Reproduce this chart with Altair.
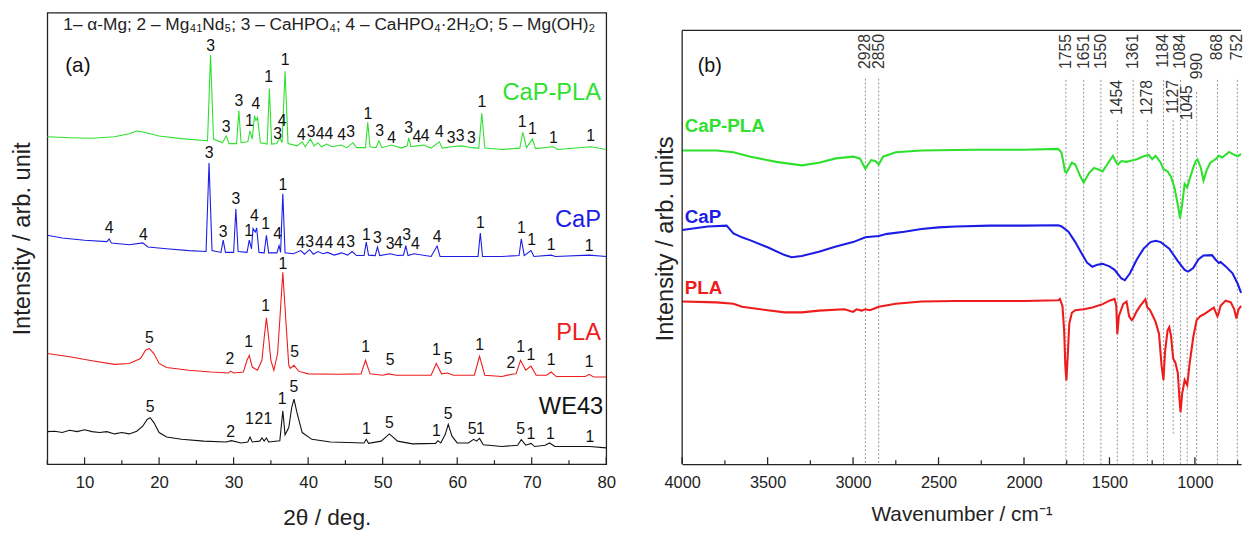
import altair as alt
import pandas as pd

FONT = "Liberation Sans"
W, H = 567, 458

# ---------------- Panel (a): XRD ----------------
a_ticks_major = [10, 20, 30, 40, 50, 60, 70, 80]
a_ticks_minor = [5, 15, 25, 35, 45, 55, 65, 75]
a_series = ["CaP-PLA", "CaP", "PLA", "WE43"]
a_colors = ["#2fe02f", "#1c1ce6", "#ee1c1c", "#111111"]

xrd_cpl = [(5,72.5),(8,72.3),(11,72.2),(14,72.5),(16,73.2),(17,73.8),(18,73.5),(20,72.7),(23,72.1),(26,71.7),
           (26.5,71.6),(26.9,90.6),(27.3,72.0),(28.5,71.2),(29.0,72.7),(29.4,71.0),(30.4,71.0),(30.7,78.3),(31.0,71.2),(31.9,71.4),
           (32.2,73.8),(32.5,72.0),(32.8,77.2),(33.0,76.1),(33.2,76.8),(33.6,71.2),(34.5,70.9),(34.8,83.2),(35.1,70.9),(35.8,71.0),
           (36.2,72.3),(36.5,71.2),(36.9,87.0),(37.3,71.0),(38.5,70.5),(39.2,71.4),(39.6,70.3),(40.3,72.0),(40.8,70.5),(41.3,71.2),
           (41.8,70.3),(42.5,70.9),(43.2,70.3),(44.4,70.7),(45.2,70.1),(46.0,71.2),(46.5,70.1),(47.7,70.1),(48.0,75.7),(48.3,70.3),
           (49.1,70.1),(49.5,71.6),(49.9,70.1),(51.2,70.7),(52.5,70.0),(53.3,70.5),(53.5,72.3),(53.8,70.3),(54.6,70.5),(55.5,70.7),
           (56.5,70.0),(57.6,71.4),(58.0,70.0),(59.2,70.3),(60.6,70.5),(61.9,70.1),(62.9,70.0),(63.3,77.7),(63.7,70.0),(66,69.7),
           (68.4,70.0),(68.8,73.5),(69.3,70.1),(70.1,72.0),(70.5,69.9),(72.9,70.3),(73.5,69.7),(77.9,70.3),(80,69.7)]

xrd_cap = [(5,50.7),(7,50.1),(10,49.6),(13,49.3),(13.3,49.9),(13.6,49.0),(16,48.6),(17.8,49.0),(18.5,48.1),(21,47.7),
           (24,47.3),(26.3,47.1),(26.7,66.7),(27.1,47.3),(28.3,46.9),(28.6,49.6),(28.9,46.9),(30.0,46.9),(30.3,56.5),(30.6,47.1),
           (31.8,46.9),(32.1,49.6),(32.4,47.7),(32.6,52.2),(32.9,51.4),(33.1,52.3),(33.4,46.9),(34.1,46.8),(34.4,50.7),(34.7,46.8),
           (35.8,46.8),(36.1,48.4),(36.3,46.9),(36.6,59.9),(36.9,46.8),(38.0,46.6),(39.0,47.3),(39.5,46.5),(40.2,47.5),(40.7,46.5),
           (41.3,47.1),(42.0,46.6),(42.6,46.9),(43.5,46.3),(44.5,46.8),(45.3,46.3),(45.9,47.1),(46.5,46.2),(47.5,46.2),(47.8,49.2),
           (48.1,46.3),(49.0,46.2),(49.3,48.1),(49.6,46.2),(51.0,46.6),(52.0,46.2),(52.8,46.3),(53.1,48.4),(53.4,46.2),(54.2,46.6),
           (56.5,46.0),(57.3,48.3),(57.7,46.0),(60,46.0),(62.8,46.0),(63.1,51.2),(63.4,46.0),(66,46.0),(68.3,46.2),(68.6,49.9),
           (69.0,46.2),(69.9,47.3),(70.3,46.0),(72.6,46.3),(73.2,46.0),(77.7,46.3),(80,46.0)]

xrd_pla = [(5,24.5),(8,23.8),(11,22.9),(14,22.1),(16,22.3),(17.5,23.4),(18.2,25.3),(18.7,25.6),(19.3,24.5),(20.0,22.3),
           (21,21.4),(24,20.8),(27,20.4),(29.3,20.2),(29.6,20.6),(30.0,20.2),(31.3,20.4),(31.8,23.0),(32.1,24.1),(32.5,21.5),
           (33.2,20.8),(33.8,23.0),(34.1,28.0),(34.4,32.4),(34.7,28.0),(35.0,23.0),(35.4,20.8),(35.9,24.5),(36.2,32.0),(36.6,42.5),
           (37.0,32.0),(37.4,21.9),(37.6,21.2),(38.1,21.9),(38.7,20.6),(40,20.0),(44,19.9),(47.1,20.0),(47.7,23.0),(48.3,20.0),
           (50.0,19.7),(50.8,20.0),(51.8,19.7),(56.5,19.7),(57.2,22.3),(57.9,20.0),(58.7,20.2),(59.5,19.7),(62.3,19.7),(63.0,23.9),
           (63.7,19.7),(66,19.4),(67.3,19.9),(67.9,20.0),(68.5,23.0),(69.2,20.8),(69.9,21.7),(70.6,19.7),(72.0,19.7),(72.6,20.4),
           (73.3,19.4),(77.2,19.4),(77.7,19.9),(78.3,19.3),(80,19.3)]

xrd_we43 = [(5,7.2),(6,7.3),(7,7.0),(8,7.5),(9,7.2),(10,7.6),(11,7.2),(12,7.0),(13,7.2),(14,6.7),
            (15,7.0),(16,6.7),(17,7.3),(17.8,8.4),(18.4,9.9),(18.8,10.3),(19.3,9.2),(20.0,7.0),(21,6.0),(23,5.5),
            (26,5.1),(29,4.9),(29.7,5.2),(31,4.7),(31.9,4.9),(32.2,6.0),(32.5,4.9),(33.5,5.1),(33.8,5.8),(34.1,5.1),
            (34.4,5.8),(34.7,4.9),(36.2,5.2),(36.6,11.8),(36.9,6.5),(37.4,8.1),(37.8,12.6),(38.1,14.4),(38.5,11.4),(39.2,7.0),
            (40.5,5.5),(43,4.9),(47.5,4.7),(47.8,5.5),(48.1,4.6),(49.8,5.1),(50.9,6.7),(52,5.1),(54,4.5),(57.1,4.6),
            (57.4,5.2),(57.8,4.7),(58.4,6.6),(58.8,8.8),(59.3,6.2),(60,4.7),(61.5,4.7),(62.2,5.5),(62.6,5.1),(63.0,5.7),
            (63.5,4.3),(66,3.9),(68.1,4.2),(68.6,5.4),(69.2,4.2),(69.9,4.6),(70.4,3.9),(71.8,4.2),(72.4,4.7),(73.1,3.9),
            (77.8,3.9),(80,3.6)]

lab_cpl = [(26.9,92.5,"3"),(29.0,74.6,"3"),(30.7,80.4,"3"),(32.1,75.9,"1"),(33.0,79.7,"4"),(34.7,85.7,"1"),(35.9,73.1,"3"),
           (36.5,76.1,"4"),(36.9,89.6,"1"),(39.1,72.9,"4"),(40.4,73.5,"3"),(41.6,73.1,"4"),(42.8,73.1,"4"),(44.5,72.9,"4"),
           (45.7,73.5,"3"),(48.0,77.6,"1"),(49.6,73.8,"3"),(51.2,72.3,"4"),(53.5,74.4,"3"),(54.6,72.5,"4"),(55.7,72.7,"4"),
           (57.6,73.5,"4"),(59.2,72.3,"3"),(60.4,72.7,"3"),(61.9,72.2,"3"),(63.3,80.2,"1"),(68.7,75.7,"1"),(70.1,74.2,"1"),
           (72.9,72.3,"1"),(77.9,72.6,"1")]
lab_cap = [(13.3,52.3,"4"),(17.9,50.8,"4"),(26.7,68.8,"3"),(28.6,51.4,"3"),(30.3,58.7,"3"),(32.0,51.6,"1"),(32.8,55.0,"4"),
           (34.3,53.1,"1"),(35.9,51.0,"4"),(36.6,61.9,"1"),(39.0,49.0,"4"),(40.2,49.3,"3"),(41.5,49.0,"4"),(42.8,49.0,"4"),
           (44.4,49.0,"4"),(45.7,49.3,"3"),(47.8,50.8,"1"),(49.3,50.1,"3"),(51.0,48.8,"3"),(52.1,49.0,"4"),(53.2,50.8,"3"),
           (54.4,48.8,"4"),(57.3,50.3,"4"),(63.1,53.3,"1"),(68.6,52.2,"1"),(70.0,49.6,"1"),(72.6,48.6,"1"),(77.7,48.4,"1")]
lab_pla = [(18.7,27.9,"5"),(29.5,23.2,"2"),(32.0,27.1,"1"),(34.3,35.0,"1"),(36.6,44.3,"1"),(38.2,24.9,"5"),(47.7,26.0,"1"),
           (51.0,23.0,"5"),(57.2,25.3,"1"),(58.8,23.2,"5"),(63.0,26.4,"1"),(67.2,22.4,"2"),(68.5,25.9,"1"),(69.9,24.1,"1"),
           (72.6,23.0,"1"),(77.7,22.6,"1")]
lab_we43 = [(18.8,12.6,"5"),(29.6,7.2,"2"),(32.1,9.9,"1"),(33.4,9.9,"2"),(34.6,9.9,"1"),(36.5,14.4,"1"),(38.1,17.0,"5"),
            (47.8,7.7,"1"),(50.9,9.2,"5"),(57.2,7.3,"1"),(58.8,11.1,"5"),(62.0,7.7,"5"),(63.1,7.7,"1"),(68.5,7.7,"5"),
            (69.9,6.7,"1"),(72.5,6.7,"1"),(77.8,6.0,"1")]

a_name_x = [79.3, 79.3, 79.3, 79.6]
a_name_y = [82.1, 54.0, 29.0, 12.6]

a_legend = "1\u2013 \u03b1-Mg; 2 \u2013 Mg\u2084\u2081Nd\u2085; 3 \u2013 CaHPO\u2084; 4 \u2013 CaHPO\u2084\u00b72H\u2082O; 5 \u2013 Mg(OH)\u2082"

# ---------------- Panel (b): FTIR ----------------
b_ticks_major = [4000, 3500, 3000, 2500, 2000, 1500, 1000]
b_ticks_minor = [3750, 3250, 2750, 2250, 1750, 1250, 750]
b_series = ["CaP-PLA", "CaP", "PLA"]
b_colors = ["#35e035", "#1a1ae0", "#ec1e1e"]

ftir_cpl = [(4000,72.3),(3800,72.3),(3700,71.9),(3600,70.9),(3450,69.7),(3300,68.9),(3200,69.5),(3100,70.5),(3000,70.9),(2960,70.5),
            (2928,68.1),(2895,70.1),(2870,69.9),(2850,69.1),(2825,70.9),(2750,71.9),(2600,72.3),(2300,72.5),(2000,72.5),(1800,72.7),
            (1780,71.8),(1760,67.5),(1752,67.2),(1720,69.5),(1700,69.1),(1670,66.3),(1651,64.9),(1620,67.1),(1590,68.3),(1560,67.9),
            (1540,67.5),(1500,69.9),(1480,71.1),(1460,69.5),(1450,69.1),(1430,69.9),(1400,69.7),(1380,69.9),(1340,70.3),(1300,71.0),
            (1270,71.3),(1250,70.3),(1230,71.1),(1200,69.5),(1184,68.0),(1160,67.5),(1140,66.3),(1120,63.8),(1100,59.8),(1087,56.7),
            (1075,59.8),(1060,64.6),(1045,63.8),(1030,65.9),(1010,68.3),(995,69.9),(985,70.3),(965,68.3),(950,65.4),(930,67.9),
            (910,69.5),(880,70.3),(860,71.1),(840,70.7),(800,72.0),(770,71.3),(750,71.0),(730,71.5)]

ftir_cap = [(4000,54.0),(3850,54.8),(3740,55.0),(3700,53.2),(3650,52.3),(3600,51.6),(3500,50.0),(3400,48.2),(3360,47.7),(3300,48.0),
            (3200,49.0),(3100,50.2),(3000,51.2),(2928,52.3),(2850,52.6),(2800,53.1),(2700,53.6),(2600,54.2),(2500,54.6),(2400,54.8),
            (2200,55.0),(2000,55.0),(1800,55.1),(1780,54.8),(1740,53.6),(1700,51.2),(1660,48.4),(1630,46.4),(1600,45.5),(1570,46.0),
            (1540,46.2),(1500,45.6),(1470,44.8),(1430,42.8),(1410,42.4),(1380,44.0),(1340,47.2),(1300,49.7),(1260,51.2),(1230,51.5),
            (1200,51.2),(1150,49.7),(1100,46.8),(1060,44.8),(1040,44.4),(1010,45.2),(980,47.2),(950,48.1),(900,48.2),(880,47.2),
            (860,46.4),(850,46.6),(820,45.6),(780,44.0),(750,41.6),(730,39.5)]

ftir_pla = [(4000,37.5),(3800,37.3),(3700,37.0),(3650,36.3),(3500,35.5),(3400,35.0),(3300,35.0),(3200,35.4),(3050,35.7),(3000,35.1),
            (2980,35.7),(2950,35.4),(2928,35.7),(2900,35.5),(2850,36.3),(2750,37.0),(2600,37.5),(2400,37.6),(2000,37.6),(1800,37.8),
            (1790,38.1),(1775,36.5),(1765,30.8),(1758,22.5),(1752,19.3),(1745,24.3),(1735,32.4),(1720,34.9),(1700,35.5),(1651,35.7),
            (1600,36.1),(1540,36.9),(1500,37.7),(1470,38.1),(1460,36.5),(1454,30.0),(1445,34.1),(1420,36.9),(1400,37.5),(1385,34.1),
            (1370,33.2),(1361,33.6),(1340,35.3),(1320,36.5),(1290,38.0),(1278,36.1),(1265,35.7),(1250,34.5),(1230,32.8),(1210,30.0),
            (1195,22.7),(1184,19.4),(1175,25.9),(1160,30.8),(1150,31.6),(1140,29.6),(1127,24.3),(1115,23.5),(1100,21.0),(1090,14.8),
            (1084,12.0),(1075,16.2),(1060,19.4),(1045,18.2),(1030,23.5),(1010,29.2),(990,33.2),(970,34.1),(950,34.5),(920,35.3),
            (890,36.1),(868,34.1),(860,34.9),(850,36.5),(820,37.7),(790,37.3),(770,35.7),(757,33.6),(745,35.7),(730,36.5)]

peak_wn = [2928, 2850, 1755, 1651, 1550, 1454, 1361, 1278, 1184, 1127, 1084, 1045, 990, 868, 752]
peak_label_top = [99.2, 99.2, 99.2, 99.2, 99.2, 88.6, 99.2, 88.6, 99.2, 88.6, 99.2, 87.4, 94.8, 99.2, 99.2]
peak_line_top = [88.9, 88.9, 88.6, 88.6, 88.6, 79.3, 88.6, 79.3, 88.6, 79.3, 88.6, 79.3, 85.8, 88.6, 88.6]
peak_line_bot = [0, 0, 0, 0, 0, 0, 0, 0, 0, 6.6, 0, 0, 0, 0, 0]

b_name_x = [3985, 3985, 3985]
b_name_y = [78.0, 57.0, 40.7]


# ---------------- build tables ----------------
def pts(name, pairs):
    return pd.DataFrame({"x": [p[0] for p in pairs], "y": [p[1] for p in pairs], "s": name})


def labs(items):
    return pd.DataFrame({"x": [p[0] for p in items], "y": [p[1] for p in items], "t": [p[2] for p in items]})


ink = "#222222"

# ---- panel a ----
xa = alt.X("x:Q", scale=alt.Scale(domain=[5, 80], nice=False, zero=False),
           axis=alt.Axis(values=a_ticks_major, format="d", title="2\u03b8 / deg.", ticks=False, domain=False,
                         grid=False, labelFlush=False, labelFontSize=17, labelPadding=11, labelFont=FONT,
                         labelColor=ink, titleFont=FONT, titleFontSize=23, titleFontWeight="normal",
                         titleColor=ink, titlePadding=16))
ya = alt.Y("y:Q", scale=alt.Scale(domain=[0, 100], nice=False, zero=False),
           axis=alt.Axis(title="Intensity / arb. unit", labels=False, ticks=False, domain=False, grid=False,
                         titleFont=FONT, titleFontSize=24, titleFontWeight="normal", titleColor=ink, titlePadding=13))
ca = alt.Color("s:N", scale=alt.Scale(domain=a_series, range=a_colors), legend=None)

tr_a = pd.concat([pts(a_series[0], xrd_cpl), pts(a_series[1], xrd_cap),
                  pts(a_series[2], xrd_pla), pts(a_series[3], xrd_we43)])
lines_a = alt.Chart(tr_a).mark_line(strokeWidth=1.1).encode(x=xa, y=ya, color=ca, detail="s:N")

lab_a = pd.concat([labs(lab_cpl), labs(lab_cap), labs(lab_pla), labs(lab_we43)])
peaks_a = alt.Chart(lab_a).mark_text(font=FONT, fontSize=16, color="#111", baseline="middle").encode(
    x=xa, y=ya, text="t:N")

names_a = alt.Chart(pd.DataFrame({"x": a_name_x, "y": a_name_y, "s": a_series})).mark_text(
    font=FONT, fontSize=24, align="right", baseline="middle").encode(x=xa, y=ya, text="s:N", color=ca)

tick_major_a = alt.Chart(pd.DataFrame({"x": a_ticks_major})).mark_rule(color=ink, strokeWidth=1.2).encode(
    x=xa, y=alt.value(H), y2=alt.value(H - 7))
tick_minor_a = alt.Chart(pd.DataFrame({"x": a_ticks_minor})).mark_rule(color=ink, strokeWidth=1.2).encode(
    x=xa, y=alt.value(H), y2=alt.value(H - 4))

legend_a = alt.Chart(pd.DataFrame({"t": [a_legend]})).mark_text(
    font=FONT, fontSize=17.5, color="#222", baseline="middle", align="center").encode(
    x=alt.value(286), y=alt.value(13), text="t:N")
tag_a = alt.Chart(pd.DataFrame({"t": ["(a)"]})).mark_text(
    font=FONT, fontSize=21, color="#111", baseline="middle", align="center").encode(
    x=alt.value(31), y=alt.value(54), text="t:N")

panel_a = alt.layer(lines_a, peaks_a, names_a, tick_major_a, tick_minor_a, legend_a, tag_a).properties(
    width=W, height=H, view=alt.ViewBackground(stroke=ink, strokeWidth=1.3))

# ---- panel b ----
xb = alt.X("x:Q", scale=alt.Scale(domain=[730, 4000], reverse=True, nice=False, zero=False),
           axis=alt.Axis(values=b_ticks_major, format="d", title="Wavenumber / cm\u207b\u00b9", ticks=False,
                         domain=True, domainColor=ink, domainWidth=1.3, grid=False, labelFlush=False,
                         labelFontSize=16.5, labelPadding=11, labelFont=FONT, labelColor=ink, titleFont=FONT,
                         titleFontSize=21, titleFontWeight="normal", titleColor=ink, titlePadding=13))
yb = alt.Y("y:Q", scale=alt.Scale(domain=[0, 104.1], nice=False, zero=False),
           axis=alt.Axis(title="Intensity / arb. units", labels=False, ticks=False, domain=False, grid=False,
                         titleFont=FONT, titleFontSize=24, titleFontWeight="normal", titleColor=ink, titlePadding=5))
cb = alt.Color("s:N", scale=alt.Scale(domain=b_series, range=b_colors), legend=None)

tr_b = pd.concat([pts(b_series[0], ftir_cpl), pts(b_series[1], ftir_cap), pts(b_series[2], ftir_pla)])
lines_b = alt.Chart(tr_b).mark_line(strokeWidth=2.1).encode(x=xb, y=yb, color=cb, detail="s:N")

peak_df = pd.DataFrame({"x": peak_wn, "y": peak_line_top, "y0": peak_line_bot,
                        "lt": peak_label_top, "t": [str(v) for v in peak_wn]})
dots_b = alt.Chart(peak_df).mark_rule(color="#888", strokeWidth=0.9, strokeDash=[2, 2]).encode(
    x=xb, y=yb, y2="y0:Q")
peak_labels_b = alt.Chart(peak_df).mark_text(font=FONT, fontSize=16, color="#333", angle=270,
                                             align="right", baseline="middle").encode(
    x=xb, y=alt.Y("lt:Q", scale=alt.Scale(domain=[0, 104.1], nice=False, zero=False)), text="t:N")

names_b = alt.Chart(pd.DataFrame({"x": b_name_x, "y": b_name_y, "s": b_series})).mark_text(
    font=FONT, fontSize=19, fontWeight="bold", align="left", baseline="middle").encode(
    x=xb, y=yb, text="s:N", color=cb)

tick_major_b = alt.Chart(pd.DataFrame({"x": b_ticks_major})).mark_rule(color=ink, strokeWidth=1.3).encode(
    x=xb, y=alt.value(H), y2=alt.value(H - 7))
tick_minor_b = alt.Chart(pd.DataFrame({"x": b_ticks_minor})).mark_rule(color=ink, strokeWidth=1.2).encode(
    x=xb, y=alt.value(H), y2=alt.value(H - 4))

frame_df = pd.DataFrame({"x": [4000], "x2": [730], "y": [100.0], "y0": [0.0]})
frame_left = alt.Chart(frame_df).mark_rule(color=ink, strokeWidth=1.3).encode(x=xb, y=yb, y2="y0:Q")
frame_top = alt.Chart(frame_df).mark_rule(color=ink, strokeWidth=1.3).encode(x=xb, x2="x2:Q", y=yb)

tag_b = alt.Chart(pd.DataFrame({"t": ["(b)"]})).mark_text(
    font=FONT, fontSize=20, color="#111", baseline="middle", align="center").encode(
    x=alt.value(28), y=alt.value(54), text="t:N")

panel_b = alt.layer(dots_b, lines_b, peak_labels_b, names_b, tick_major_b, tick_minor_b,
                    frame_left, frame_top, tag_b).properties(
    width=W, height=H, view=alt.ViewBackground(stroke="transparent"))

chart = alt.hconcat(panel_a, panel_b, spacing=36).properties(
    padding={"left": 10, "top": 8, "right": 0, "bottom": 0}, background="white")

chart.save("out.html", embed_options={"renderer": "svg", "actions": False})
